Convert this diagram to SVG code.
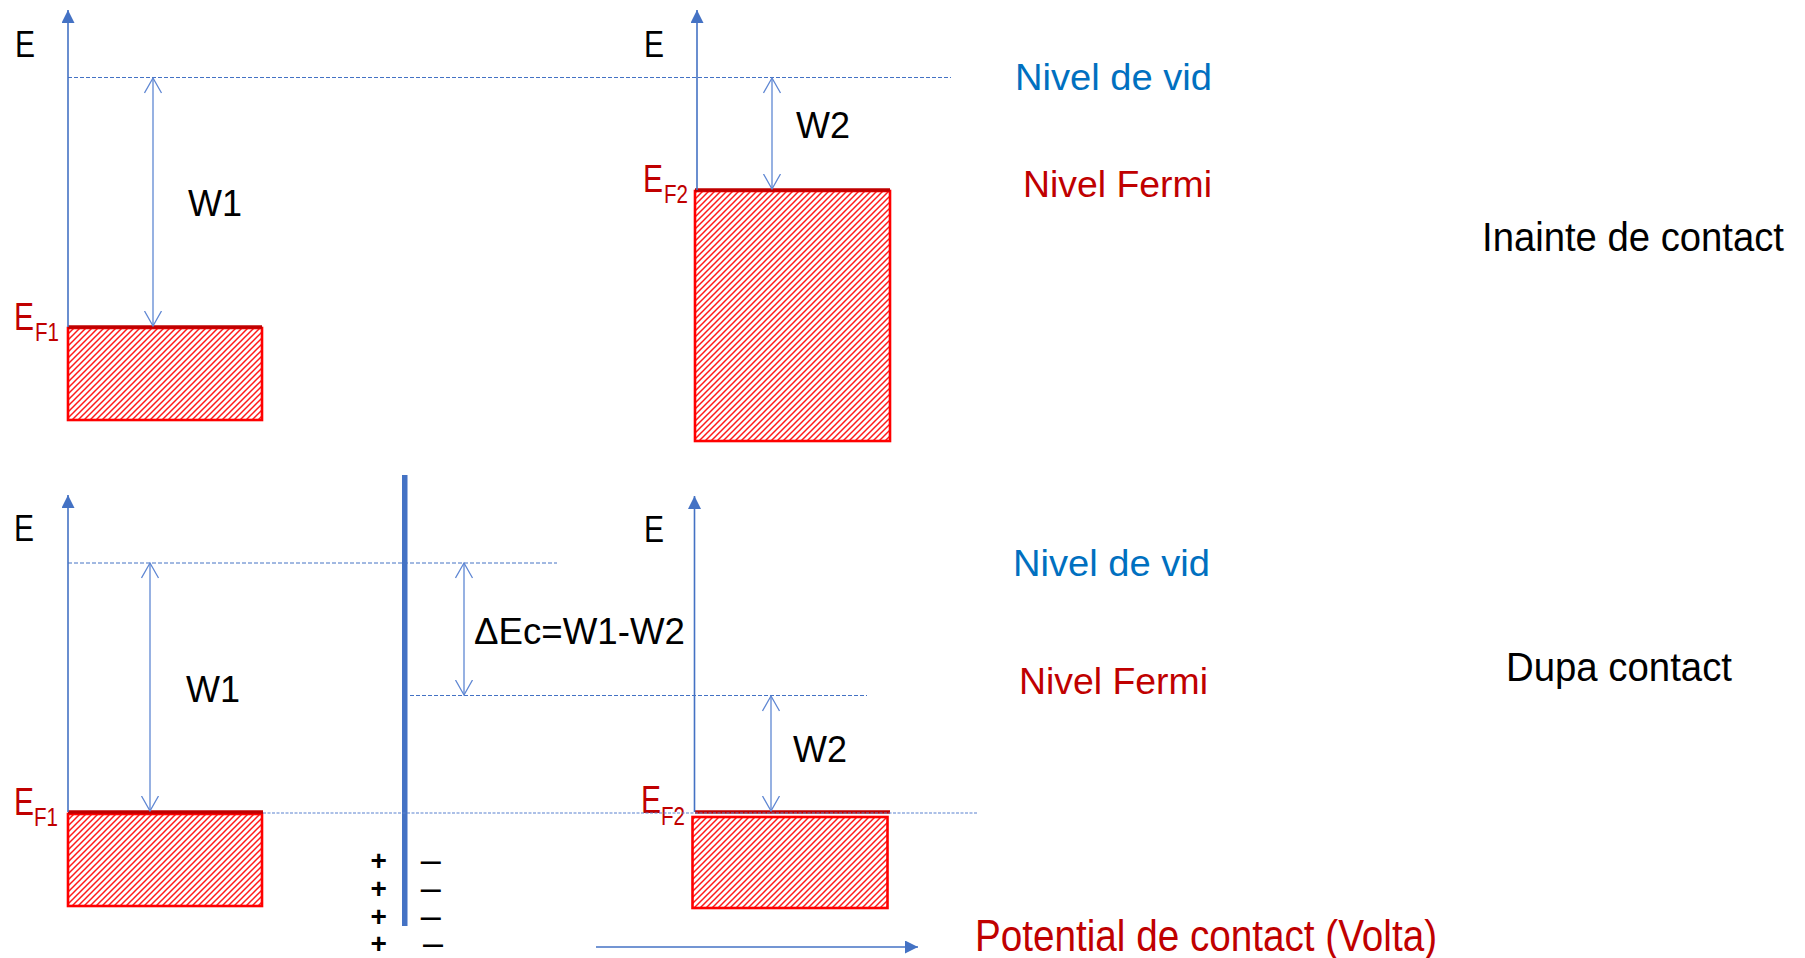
<svg xmlns="http://www.w3.org/2000/svg" width="1805" height="958" viewBox="0 0 1805 958">
  <defs>
    <!-- diagonal hatch used for the filled electron bands -->
    <pattern id="hatch" patternUnits="userSpaceOnUse" width="6" height="6">
      <rect width="6" height="6" fill="#FFFFFF"/>
      <path d="M-1,1 L1,-1 M0,6 L6,0 M5,7 L7,5" stroke="#FF1A1A" stroke-width="1.5"/>
    </pattern>
    <!-- filled arrowhead for energy axes -->
    <marker id="tri" viewBox="0 0 14 14" markerUnits="userSpaceOnUse" markerWidth="14" markerHeight="14" refX="13" refY="6.5" orient="auto">
      <path d="M0,0 L13,6.5 L0,13 Z" fill="#4472C4"/>
    </marker>
    <!-- open arrowhead for dimension arrows -->
    <marker id="vee" viewBox="0 0 18 20" markerUnits="userSpaceOnUse" markerWidth="18" markerHeight="20" refX="15.5" refY="9.5" orient="auto-start-reverse">
      <path d="M0.5,1 L15.5,9.5 L0.5,18" fill="none" stroke="#5F87D3" stroke-width="1.3"/>
    </marker>
  </defs>
  <style>
    text { font-family: "Liberation Sans", Arial, sans-serif; }
    .axis { stroke: #4472C4; stroke-width: 1.6; fill: none; marker-end: url(#tri); }
    .dim { stroke: #5F87D3; stroke-width: 1.3; fill: none; marker-start: url(#vee); marker-end: url(#vee); }
    .vac { stroke: #4472C4; stroke-width: 1; stroke-dasharray: 4 2; fill: none; }
    .dot { stroke: #5A82CF; stroke-width: 1.2; stroke-dasharray: 3 1.5; fill: none; }
    .block { fill: url(#hatch); stroke: #FF0000; stroke-width: 2.6; }
    .fermi { stroke: #C00000; stroke-width: 3.5; }
    .lbl { font-size: 36px; fill: #000000; }
    .ef { font-size: 38px; fill: #C00000; }
    .sub { font-size: 25px; fill: #C00000; }
    .blue { font-size: 37px; fill: #0070C0; }
    .red { font-size: 37px; fill: #C00000; }
    .title { font-size: 40px; fill: #000000; }
    .charges { fill: #000000; text-anchor: middle; }
    .plus { font-size: 28px; font-weight: bold; }
    .minus { font-size: 36px; }
  </style>

  <rect width="1805" height="958" fill="#FFFFFF"/>

  <!-- ===== Before contact ===== -->
  <g id="metal1-before">
    <rect class="block" x="68" y="328" width="194" height="92"/>
    <line class="fermi" x1="68" y1="327" x2="262" y2="327"/>
    <text class="ef" x="14" y="330" textLength="20" lengthAdjust="spacingAndGlyphs">E</text>
    <text class="sub" x="35" y="341" textLength="24" lengthAdjust="spacingAndGlyphs">F1</text>
    <text class="lbl" x="15" y="57" textLength="20" lengthAdjust="spacingAndGlyphs">E</text>
    <text class="lbl" x="188" y="216">W1</text>
  </g>

  <g id="metal2-before">
    <rect class="block" x="695" y="191" width="195" height="250"/>
    <line class="fermi" x1="695" y1="190" x2="890" y2="190"/>
    <text class="ef" x="643" y="192" textLength="20" lengthAdjust="spacingAndGlyphs">E</text>
    <text class="sub" x="664" y="203" textLength="24" lengthAdjust="spacingAndGlyphs">F2</text>
    <text class="lbl" x="644" y="57" textLength="20" lengthAdjust="spacingAndGlyphs">E</text>
    <text class="lbl" x="796" y="138">W2</text>
  </g>

  <g id="legend-before">
    <text class="blue" x="1015" y="90" textLength="197" lengthAdjust="spacingAndGlyphs">Nivel de vid</text>
    <text class="red" x="1023" y="197" textLength="189" lengthAdjust="spacingAndGlyphs">Nivel Fermi</text>
    <text class="title" x="1482" y="251" textLength="302" lengthAdjust="spacingAndGlyphs">Inainte de contact</text>
  </g>

  <!-- ===== After contact ===== -->
  <g id="junction">
    <rect x="402" y="475" width="5.5" height="451" fill="#4472C4"/>
    <!-- space charge on both sides of the contact -->
    <text class="charges">
      <tspan class="plus" x="381" y="870">+</tspan>
      <tspan class="minus" x="433" y="872">–</tspan>
      <tspan class="plus" x="381" y="898">+</tspan>
      <tspan class="minus" x="433" y="900">–</tspan>
      <tspan class="plus" x="381" y="926">+</tspan>
      <tspan class="minus" x="433" y="928">–</tspan>
      <tspan class="plus" x="381" y="953">+</tspan>
      <tspan class="minus" x="433" y="955">–</tspan>
    </text>
  </g>

  <g id="metal1-after">
    <rect class="block" x="68" y="814" width="194" height="92"/>
    <line class="fermi" x1="68" y1="812" x2="263" y2="812"/>
    <text class="ef" x="14" y="815" textLength="20" lengthAdjust="spacingAndGlyphs">E</text>
    <text class="sub" x="34" y="826" textLength="24" lengthAdjust="spacingAndGlyphs">F1</text>
    <text class="lbl" x="14" y="541" textLength="20" lengthAdjust="spacingAndGlyphs">E</text>
    <text class="lbl" x="186" y="702">W1</text>
  </g>

  <g id="metal2-after">
    <rect class="block" x="692.5" y="817" width="195" height="91"/>
    <line class="fermi" x1="695" y1="812" x2="890" y2="812"/>
    <text class="ef" x="641" y="813" textLength="20" lengthAdjust="spacingAndGlyphs">E</text>
    <text class="sub" x="661" y="825" textLength="24" lengthAdjust="spacingAndGlyphs">F2</text>
    <text class="lbl" x="644" y="542" textLength="20" lengthAdjust="spacingAndGlyphs">E</text>
    <text class="lbl" x="793" y="762">W2</text>
  </g>

  <g id="legend-after">
    <text class="lbl" x="474" y="644" textLength="211" lengthAdjust="spacingAndGlyphs">ΔEc=W1-W2</text>
    <text class="blue" x="1013" y="576" textLength="197" lengthAdjust="spacingAndGlyphs">Nivel de vid</text>
    <text class="red" x="1019" y="694" textLength="189" lengthAdjust="spacingAndGlyphs">Nivel Fermi</text>
    <text class="title" x="1506" y="681" textLength="226" lengthAdjust="spacingAndGlyphs">Dupa contact</text>
    <text x="975" y="951" font-size="44" fill="#C00000" textLength="462" lengthAdjust="spacingAndGlyphs">Potential de contact (Volta)</text>
  </g>

  <!-- ===== Axes, levels and dimension arrows ===== -->
  <g id="connectors">
    <!-- energy axes -->
    <line class="axis" x1="68" y1="327" x2="68" y2="10"/>
    <line class="axis" x1="697" y1="190" x2="697" y2="10"/>
    <line class="axis" x1="68" y1="812" x2="68" y2="495"/>
    <line class="axis" x1="694.5" y1="812" x2="694.5" y2="496"/>

    <!-- vacuum levels -->
    <line class="vac" x1="68" y1="77.5" x2="951" y2="77.5"/>
    <line class="vac" x1="68" y1="563" x2="557" y2="563"/>
    <line class="vac" x1="410" y1="695.5" x2="867" y2="695.5"/>

    <!-- common Fermi level after contact -->
    <line class="dot" x1="263" y1="813" x2="977" y2="813"/>

    <!-- work functions and vacuum offset -->
    <line class="dim" x1="153" y1="78" x2="153" y2="326"/>
    <line class="dim" x1="772" y1="78" x2="772" y2="189"/>
    <line class="dim" x1="150" y1="563" x2="150" y2="811"/>
    <line class="dim" x1="464" y1="563" x2="464" y2="695"/>
    <line class="dim" x1="771" y1="696" x2="771" y2="811"/>

    <!-- contact potential direction -->
    <line class="axis" x1="596" y1="947" x2="918" y2="947"/>
  </g>
</svg>
